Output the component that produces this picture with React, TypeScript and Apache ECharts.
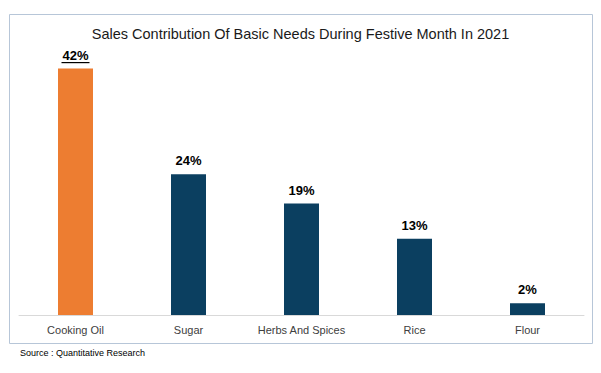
import React, { useEffect, useRef } from "react";
import * as echarts from "echarts";

const titleText = "Sales Contribution Of Basic Needs During Festive Month In 2021";
const sourceText = "Source : Quantitative Research";
const categories = ["Cooking Oil", "Sugar", "Herbs And Spices", "Rice", "Flour"];
const values = [42, 24, 19, 13, 2];
const highlightIndex = 0;

const FONT = "'Liberation Sans', Arial, sans-serif";

export default function App() {
  const ref = useRef<HTMLDivElement>(null);
  useEffect(() => {
    document.body.style.margin = "0";
    const chart = echarts.init(ref.current!, null, { renderer: "svg" });
    chart.setOption({
      animation: false,
      backgroundColor: "#ffffff",
      title: {
        text: titleText,
        left: "center",
        top: 21,
        textStyle: { fontFamily: FONT, fontSize: 14.5, fontWeight: "normal", color: "#1a1a1a" },
      },
      grid: { left: 19, right: 17, top: 51, bottom: 58 },
      xAxis: {
        type: "category",
        data: categories,
        axisLine: { lineStyle: { color: "#d9d9d9", width: 1 } },
        axisTick: { show: false },
        axisLabel: { fontFamily: FONT, fontSize: 11, color: "#404040", margin: 9, interval: 0, hideOverlap: false },
      },
      yAxis: { type: "value", min: 0, max: 45, show: false, splitLine: { show: false } },
      series: [
        {
          type: "bar",
          barWidth: 35,
          data: values.map((v, i) => ({
            value: v,
            itemStyle: { color: i === highlightIndex ? "#ED7D31" : "#0B3F60" },
          })),
          label: {
            show: true,
            position: "top",
            distance: 7,
            formatter: "{c}%",
            fontFamily: FONT,
            fontSize: 13,
            fontWeight: "bold",
            color: "#000000",
          },
        },
      ],
      graphic: [
        {
          type: "rect",
          shape: { x: 9.5, y: 14.5, width: 583, height: 329 },
          style: { fill: "none", stroke: "#b7c6d8", lineWidth: 1 },
          silent: true,
        },
        {
          type: "text",
          left: 20,
          top: 348,
          style: { text: sourceText, fontFamily: FONT, fontSize: 9, fill: "#000000" },
        },
      ],
    });
    const p = chart.convertToPixel({ seriesIndex: 0 }, [highlightIndex, values[highlightIndex]]) as number[];
    if (p) {
      chart.setOption({
        graphic: [
          {},
          {},
          {
            type: "line",
            shape: { x1: p[0] - 14, y1: p[1] - 6, x2: p[0] + 14, y2: p[1] - 6 },
            style: { stroke: "#000000", lineWidth: 1.2 },
            silent: true,
          },
        ],
      });
    }
    return () => chart.dispose();
  }, []);
  return <div ref={ref} style={{ width: 601, height: 373, position: "absolute", left: 0, top: 0 }} />;
}
